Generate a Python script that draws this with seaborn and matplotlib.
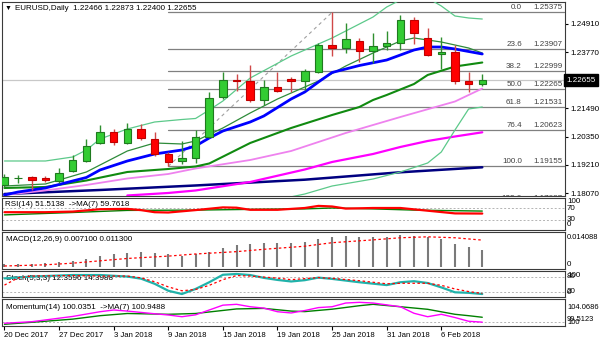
import matplotlib
matplotlib.use("Agg")
import matplotlib.pyplot as plt
import seaborn as sns
import pandas as pd
from matplotlib.patches import Rectangle

sns.set_theme(style="white")
plt.rcParams['font.family'] = ['Liberation Sans', 'DejaVu Sans']

# ---------------- price data (EURUSD daily) ----------------
dates = ["2017-12-20", "2017-12-21", "2017-12-22", "2017-12-26", "2017-12-27", "2017-12-28",
         "2017-12-29", "2018-01-02", "2018-01-03", "2018-01-04", "2018-01-05", "2018-01-08",
         "2018-01-09", "2018-01-10", "2018-01-11", "2018-01-12", "2018-01-15", "2018-01-16",
         "2018-01-17", "2018-01-18", "2018-01-19", "2018-01-22", "2018-01-23", "2018-01-24",
         "2018-01-25", "2018-01-26", "2018-01-29", "2018-01-30", "2018-01-31", "2018-02-01",
         "2018-02-02", "2018-02-05", "2018-02-06", "2018-02-07", "2018-02-08", "2018-02-09"]
opens = [1.18400, 1.18665, 1.18711, 1.18682, 1.18561, 1.18965, 1.19381, 1.20108, 1.20552,
         1.20108, 1.20662, 1.20245, 1.19652, 1.19357, 1.19478, 1.20326, 1.21942, 1.22641,
         1.22600, 1.21833, 1.22346, 1.22701, 1.22600, 1.22964, 1.24054, 1.23933, 1.24228,
         1.23824, 1.24026, 1.24135, 1.25064, 1.24337, 1.23691, 1.23784, 1.22600, 1.22466]
highs = [1.18844, 1.18804, 1.18763, 1.18763, 1.19098, 1.19611, 1.20245, 1.20823, 1.20662,
         1.20892, 1.20851, 1.20540, 1.19733, 1.20189, 1.20621, 1.22168, 1.22976, 1.22863,
         1.23246, 1.22641, 1.22976, 1.22742, 1.23085, 1.24155, 1.25375, 1.24943, 1.24325,
         1.24551, 1.24632, 1.25266, 1.25165, 1.24753, 1.24377, 1.24054, 1.22976, 1.22873]
lows = [1.18319, 1.18468, 1.18198, 1.18509, 1.18493, 1.18925, 1.19341, 1.20068, 1.20015,
        1.20056, 1.20217, 1.19559, 1.19155, 1.19248, 1.19276, 1.20286, 1.21861, 1.22196,
        1.21764, 1.21631, 1.22144, 1.22156, 1.22237, 1.22911, 1.23630, 1.23719, 1.23380,
        1.23307, 1.23852, 1.23852, 1.24095, 1.23630, 1.23097, 1.22459, 1.22156, 1.22400]
closes = [1.18703, 1.18680, 1.18602, 1.18602, 1.18872, 1.19409, 1.19975, 1.20552, 1.20148,
          1.20649, 1.20310, 1.19664, 1.19341, 1.19470, 1.20326, 1.21901, 1.22628, 1.22600,
          1.21821, 1.22346, 1.22208, 1.22608, 1.22992, 1.24054, 1.23921, 1.24297, 1.23820,
          1.24026, 1.24147, 1.25064, 1.24539, 1.23638, 1.23780, 1.22600, 1.22471, 1.22655]

# ---------------- overlays on the price chart (bar index, price) ----------------
bb_upper_x = [0, 3, 5, 6, 7, 9, 11, 13, 14, 15, 16, 18, 21, 24, 27, 28, 29, 30, 31, 32, 33, 34, 35]
bb_upper_y = [1.19369, 1.19369, 1.19531, 1.19813, 1.20258, 1.20662, 1.20944, 1.21045, 1.21086,
              1.21429, 1.21792, 1.22721, 1.23610, 1.24337, 1.25185, 1.25589, 1.25872, 1.26033,
              1.25953, 1.25630, 1.25226, 1.25145, 1.25104]
bb_mid_x = [0, 3, 6, 8, 9, 11, 13, 14, 16, 18, 20, 23, 25, 27, 29, 30, 32, 34, 35]
bb_mid_y = [1.18359, 1.18440, 1.18925, 1.19490, 1.19773, 1.20096, 1.20056, 1.20177, 1.20702,
            1.21308, 1.21873, 1.22600, 1.23206, 1.23731, 1.24216, 1.24337, 1.24175, 1.23933,
            1.23731]
bb_lower_x = [21, 22, 24, 27, 29, 31, 32, 33, 34, 35]
bb_lower_y = [1.17920, 1.18036, 1.18359, 1.18642, 1.18925, 1.19288, 1.19733, 1.20621, 1.21469,
              1.21550]
ema_blue_x = [0, 1, 3, 6, 7, 9, 11, 13, 14, 15, 16, 18, 19, 21, 22, 23, 24, 26, 28, 29, 30, 31,
              32, 33, 34, 35]
ema_blue_y = [1.17996, 1.18117, 1.18279, 1.18703, 1.19006, 1.19369, 1.19652, 1.19813, 1.19975,
              1.20298, 1.20581, 1.20944, 1.21187, 1.21873, 1.22156, 1.22560, 1.22944, 1.23226,
              1.23448, 1.23650, 1.23852, 1.23973, 1.23973, 1.23893, 1.23792, 1.23691]
ma_green_x = [0, 3, 6, 9, 12, 14, 15, 18, 21, 24, 26, 27, 28, 30, 31, 33, 35]
ma_green_y = [1.18279, 1.18319, 1.18581, 1.18925, 1.19046, 1.19147, 1.19268, 1.20096, 1.20702,
              1.21227, 1.21550, 1.21833, 1.22035, 1.22479, 1.22843, 1.23186, 1.23347]
ma_violet_x = [0, 3, 6, 9, 12, 14, 18, 21, 25, 29, 33, 35]
ma_violet_y = [1.17996, 1.18178, 1.18400, 1.18662, 1.18844, 1.19066, 1.19409, 1.19773, 1.20500,
               1.21146, 1.21772, 1.22297]
ma_magenta_x = [9, 12, 14, 18, 22, 24, 27, 29, 31, 33, 35]
ma_magenta_y = [1.17976, 1.18077, 1.18178, 1.18521, 1.19026, 1.19329, 1.19652, 1.19935, 1.20177,
                1.20359, 1.20528]
ma_navy_x = [0, 7, 14, 22, 29, 35]
ma_navy_y = [1.18036, 1.18198, 1.18380, 1.18614, 1.18913, 1.19115]

fib_levels = ["0.0", "23.6", "38.2", "50.0", "61.8", "76.4", "100.0", "123.6"]
fib_prices = [1.25375, 1.23907, 1.22999, 1.22265, 1.21531, 1.20623, 1.19155, 1.17687]
fib_start_bar, fib_high_bar = 12, 24
axis_prices = [1.24910, 1.23770, 1.21490, 1.20350, 1.19210, 1.18070]
last_price = 1.22655

# ---------------- indicator panels ----------------
rsi_x = [0, 3, 5, 7, 9, 10, 11, 12, 13, 14, 16, 17, 18, 20, 22, 23, 24, 25, 27, 29, 31, 33, 35]
rsi_y = [56, 56, 58, 66, 67, 63, 56, 55, 59, 63, 72, 71, 64, 64, 70, 77, 75, 68, 70, 70, 61, 52,
         51.5138]
rsi_ma_x = [0, 5, 9, 14, 19, 22, 24, 27, 30, 33, 35]
rsi_ma_y = [47, 55, 62, 63, 66, 67, 70, 67, 63, 61, 59.7618]

macd_hist = [0.0010, 0.0010, 0.0011, 0.0014, 0.0019, 0.0026, 0.0033, 0.0047, 0.0053, 0.0060,
             0.0064, 0.0060, 0.0053, 0.0047, 0.0053, 0.0064, 0.0081, 0.0092, 0.0096, 0.0099,
             0.0099, 0.0102, 0.0106, 0.0118, 0.0125, 0.0132, 0.0128, 0.0128, 0.0128, 0.0135,
             0.0132, 0.0125, 0.0116, 0.0096, 0.0082, 0.0071]
macd_sig_x = [0, 3, 5, 7, 9, 12, 14, 17, 19, 22, 24, 27, 29, 31, 33, 35]
macd_sig_y = [0.0003, 0.0008, 0.0015, 0.0025, 0.0035, 0.0045, 0.0054, 0.0064, 0.0074, 0.0087,
              0.0102, 0.0114, 0.0123, 0.0127, 0.0123, 0.0113]

stoch_x = [0, 2, 5, 7, 9, 10, 11, 12, 13, 14, 15, 16, 17, 18, 19, 20, 21, 22, 23, 24, 26, 28,
           29, 30, 31, 32, 33, 34, 35]
stoch_k = [73, 80, 86, 86, 80, 72, 52, 25, 12.4, 32, 58, 87, 90, 86, 75, 67, 61, 66, 76, 71, 58,
           47, 58, 62, 55, 38, 19, 17, 12.3596]
stoch_sig_x = [0, 1, 2, 5, 7, 9, 10, 11, 12, 13, 14, 15, 16, 17, 18, 20, 21, 22, 23, 24, 26, 28,
               29, 31, 32, 33, 34, 35]
stoch_d = [47, 75, 82, 84, 82, 82, 75, 60, 40, 25, 30, 46, 68, 84, 82, 74, 68, 72, 76, 73, 64,
           52, 54, 54, 46, 32, 22, 14.3988]

mom_x = [0, 2, 5, 7, 8, 9, 11, 12, 13, 14, 15, 16, 17, 18, 19, 20, 21, 22, 23, 24, 25, 26, 27,
         29, 30, 31, 32, 33, 34, 35]
mom_y = [99.83, 100.12, 101.1, 101.98, 102.3, 102.1, 101.6, 101.37, 101.05, 101.4, 102.3, 103.2,
         103.36, 102.91, 102.65, 101.98, 101.75, 102.2, 102.75, 102.91, 103.6, 103.73, 103.6,
         102.91, 101.69, 101.05, 101.5, 100.9, 100.2, 100.0351]
mom_ma_x = [0, 2, 5, 7, 9, 12, 14, 17, 19, 21, 22, 24, 26, 27, 29, 31, 33, 34, 35]
mom_ma_y = [99.64, 100.01, 100.6, 101.24, 101.65, 101.5, 101.65, 102.5, 102.6, 102.1, 102.0,
            102.45, 103.1, 103.36, 102.91, 102.43, 101.5, 101.24, 100.9488]

# ---------------- layout helpers ----------------
W, H = 600, 343
fig = plt.figure(figsize=(W / 100, H / 100), dpi=100)
fig.patch.set_facecolor("white")
FS = 5.8


def panel(x0, y0, x1, y1):
    ax = fig.add_axes([x0 / W, 1 - y1 / H, (x1 - x0) / W, (y1 - y0) / H])
    ax.set_facecolor("white")
    for s in ax.spines.values():
        s.set_color("#3a3a3a")
        s.set_linewidth(0.8)
    ax.set_xlim(-0.18, 41.06)
    ax.set_xticks([])
    ax.set_yticks([])
    return ax


def ftext(ax, x, y, s, **kw):
    kw.setdefault("fontsize", FS)
    kw.setdefault("va", "center")
    kw.setdefault("color", "black")
    return ax.text(x / W, 1 - y / H, s, transform=fig.transFigure, clip_on=False, **kw)


def line(ax, xs, ys, color, lw, **kw):
    df = pd.DataFrame({"bar": xs, "val": ys})
    sns.lineplot(data=df, x="bar", y="val", ax=ax, color=color, linewidth=lw,
                 estimator=None, sort=False, legend=False, **kw)
    ax.set_xlabel("")
    ax.set_ylabel("")


ax = panel(2, 2, 565, 196)
ax_rsi = panel(2, 198, 565, 230)
ax_macd = panel(2, 232, 565, 269)
ax_st = panel(2, 271, 565, 297)
ax_mom = panel(2, 299, 565, 326)

n = len(dates)
bars = list(range(n))

# ---------------- main price panel ----------------
ax.set_ylim(1.17955, 1.25791)
ax.axhline(last_price, color="#c8c8c8", lw=0.9, zorder=1)

for lvl, pr in zip(fib_levels, fib_prices):
    ax.plot([fib_start_bar, 41.0], [pr, pr], color="#808080", lw=0.9, zorder=1)
    ax.text(37.9, pr + 0.0004, lvl, fontsize=FS, color="#404040", ha="right", va="bottom",
            zorder=2, clip_on=True)
    ax.text(40.9, pr + 0.0004, f"{pr:.5f}", fontsize=FS, color="#404040", ha="right",
            va="bottom", zorder=2, clip_on=True)
ax.plot([fib_start_bar, fib_high_bar], [fib_prices[6], fib_prices[0]], color="#a0a0a0",
        lw=0.8, ls=(0, (3, 3)), zorder=1)

line(ax, ma_navy_x, ma_navy_y, "#000080", 1.8, zorder=3)
line(ax, ma_magenta_x, ma_magenta_y, "#ff00ff", 1.6, zorder=3)
line(ax, ma_violet_x, ma_violet_y, "#ee82ee", 1.3, zorder=3)
line(ax, bb_upper_x, bb_upper_y, "#5cc98a", 0.9, zorder=3)
line(ax, bb_lower_x, bb_lower_y, "#5cc98a", 0.9, zorder=3)
line(ax, bb_mid_x, bb_mid_y, "#2e8b3a", 0.9, zorder=3)
line(ax, ma_green_x, ma_green_y, "#108a10", 1.5, zorder=3)
line(ax, ema_blue_x, ema_blue_y, "#0000ff", 2.0, zorder=3)

body_w = 0.55
for i in bars:
    o, h, l, c = opens[i], highs[i], lows[i], closes[i]
    up = c >= o
    wick = "#2f8f2f" if up else "#d04848"
    face = "#33cc33" if up else "#ff0000"
    edge = "#1f7a1f" if up else "#c00000"
    ax.plot([i, i], [l, h], color=wick, lw=1.0, zorder=4, solid_capstyle="butt")
    lo, hi = min(o, c), max(o, c)
    if hi - lo < 0.00015:
        ax.plot([i - body_w / 2, i + body_w / 2], [c, c], color=edge, lw=1.3, zorder=5)
    else:
        ax.add_patch(Rectangle((i - body_w / 2, lo), body_w, hi - lo, facecolor=face,
                               edgecolor=edge, lw=0.8, zorder=5))

ax.yaxis.tick_right()
ax.set_yticks(axis_prices)
ax.set_yticklabels([f"{p:.5f}" for p in axis_prices])
ax.tick_params(axis="y", length=2.5, width=0.8, pad=1.5, labelsize=FS, colors="black",
               direction="out", right=True, left=False)

ftext(ax, 566, 80, f"{last_price:.5f}", color="white", ha="left",
      bbox=dict(facecolor="black", edgecolor="black", boxstyle="square,pad=0.3"))
ftext(ax, 5, 8.5, "\u25bc", fontsize=5)
ftext(ax, 15, 8.5, "EURUSD,Daily  1.22466 1.22873 1.22400 1.22655")

# ---------------- RSI ----------------
ax_rsi.set_ylim(-3.3, 103.3)
for lv in (70, 30):
    ax_rsi.axhline(lv, color="#b4b4b4", lw=0.7, ls=(0, (2, 2)), zorder=1)
line(ax_rsi, rsi_ma_x, rsi_ma_y, "#008000", 1.0, zorder=3)
line(ax_rsi, rsi_x, rsi_y, "#ff0000", 1.6, zorder=3)
ftext(ax_rsi, 5, 205, "RSI(14) 51.5138  ->MA(7) 59.7618", zorder=2)
for s, yy in (("100", 201.5), ("70", 208.3), ("30", 219.5), ("0", 224.5)):
    ftext(ax_rsi, 567, yy, s)

# ---------------- MACD ----------------
ax_macd.set_ylim(-0.00098, 0.01475)
ax_macd.vlines(bars, 0, macd_hist, colors="#7a7a7a", linewidth=1.5, zorder=2)
line(ax_macd, macd_sig_x, macd_sig_y, "#ff0000", 0.9, zorder=3, linestyle=(0, (2, 2)))
ftext(ax_macd, 6, 239.5, "MACD(12,26,9) 0.007100 0.011300", zorder=4)
ftext(ax_macd, 567, 237.7, "0.014088", fontsize=5.4)
ftext(ax_macd, 567, 264.5, "0")

# ---------------- Stochastic ----------------
ax_st.set_ylim(0.8, 101.6)
for lv in (80, 20):
    ax_st.axhline(lv, color="#b4b4b4", lw=0.7, ls=(0, (2, 2)), zorder=1)
ftext(ax_st, 6, 278.3, "Stoch(5,3,3) 12.3596 14.3988", zorder=1)
line(ax_st, stoch_x, stoch_k, "#20b2aa", 1.6, zorder=3)
line(ax_st, stoch_sig_x, stoch_d, "#ff0000", 0.9, zorder=4, linestyle=(0, (2, 2)))
for s, yy in (("100", 275.3), ("80", 277.0), ("20", 291.5), ("0", 293.0)):
    ftext(ax_st, 567, yy, s)

# ---------------- Momentum ----------------
ax_mom.set_ylim(99.32, 104.35)
ax_mom.axhline(100, color="#b4b4b4", lw=0.7, ls=(0, (2, 2)), zorder=1)
ftext(ax_mom, 6, 307.7, "Momentum(14) 100.0351  ->MA(7) 100.9488", zorder=2)
line(ax_mom, mom_ma_x, mom_ma_y, "#008000", 1.0, zorder=3)
line(ax_mom, mom_x, mom_y, "#ff00ff", 1.0, zorder=3)
ftext(ax_mom, 567, 322.5, "100", fontsize=5.4)
ftext(ax_mom, 567, 307.3, "104.0686", fontsize=5.4)
ftext(ax_mom, 567, 319.3, "99.5123", fontsize=5.4)

tick_bars = list(range(0, n, 4))
ax_mom.set_xticks(tick_bars)
ax_mom.set_xticklabels([pd.Timestamp(dates[i]).strftime("%-d %b %Y") for i in tick_bars])
for lbl in ax_mom.get_xticklabels():
    lbl.set_ha("left")
ax_mom.tick_params(axis="x", length=3, width=0.8, pad=1.5, labelsize=5.6, colors="black",
                   direction="out", bottom=True)

fig.savefig("out.png", dpi=100, facecolor="white")
